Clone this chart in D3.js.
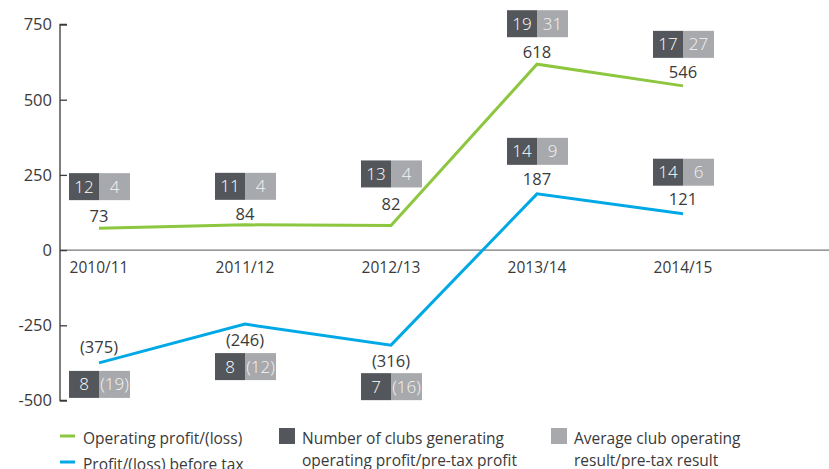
<!DOCTYPE html>
<html>
<head>
<meta charset="utf-8">
<script src="https://cdn.jsdelivr.net/npm/d3@7"></script>
<style>
  body { margin: 0; background: #fff; }
  svg { font-family: "Open Sans", "Noto Sans", sans-serif; font-weight: 400; }
</style>
</head>
<body>
<div id="chart"></div>
<script>
const seasons = ['2010/11', '2011/12', '2012/13', '2013/14', '2014/15'];
const operatingProfit = [73, 84, 82, 618, 546];
const preTaxProfit = [-375, -246, -316, 187, 121];
const clubsOperating = [12, 11, 13, 19, 17];
const avgOperating = [4, 4, 4, 31, 27];
const clubsPreTax = [8, 8, 7, 14, 14];
const avgPreTax = [-19, -12, -16, 9, 6];
const yTicks = [750, 500, 250, 0, -250, -500];

// label placement relative to each point (text baseline / box top)
const greenPlace = [[-6, -55], [-5, -52], [-15, -65], [-6, -54], [-8, -55]];
const bluePlace = [[-10, 8], [22, 29], [22, 28], [-9, -56], [-9, -55]];

const width = 829, height = 469;
const green = '#8dc63f', blue = '#00a9e6';
const dark = '#53565a', light = '#a7a9ac';
const ink = '#3a3a3a';

const svg = d3.select('#chart').append('svg')
  .attr('width', width)
  .attr('height', height);

const x = d3.scalePoint().domain(seasons).range([99, 683]);
const y = d3.scaleLinear().domain([-500, 750]).range([400.5, 24.5]);

// zero line
svg.append('line')
  .attr('x1', 60).attr('x2', width)
  .attr('y1', y(0)).attr('y2', y(0))
  .attr('stroke', '#777').attr('stroke-width', 1.3);

// y axis
const yAxis = svg.append('g')
  .attr('transform', 'translate(60,0)')
  .call(d3.axisRight(y).tickValues(yTicks).tickSize(7).tickFormat(''));
yAxis.select('.domain').attr('stroke', ink).attr('stroke-width', 1.3)
  .attr('d', `M7,${y(750)}H0V${y(-500)}H7`);
yAxis.selectAll('.tick line').attr('stroke', ink).attr('stroke-width', 1.3);

svg.append('g').selectAll('text')
  .data(yTicks)
  .join('text')
  .attr('x', 52)
  .attr('y', d => y(d))
  .attr('dy', '0.36em')
  .attr('text-anchor', 'end')
  .attr('font-size', 16.5)
  .attr('fill', ink)
  .text(d => d);

// season labels
svg.append('g').selectAll('text')
  .data(seasons)
  .join('text')
  .attr('x', d => x(d))
  .attr('y', 273)
  .attr('text-anchor', 'middle')
  .attr('font-size', 15.5)
  .attr('fill', ink)
  .text(d => d);

const line = d3.line()
  .x((d, i) => x(seasons[i]))
  .y(d => y(d));

function fmt(v) {
  return v < 0 ? '(' + Math.abs(v) + ')' : String(v);
}

function drawSeries(values, clubs, avg, place, color) {
  svg.append('path')
    .datum(values)
    .attr('fill', 'none')
    .attr('stroke', color)
    .attr('stroke-width', 3)
    .attr('d', line);

  const g = svg.append('g').selectAll('g')
    .data(values)
    .join('g')
    .attr('transform', (d, i) => `translate(${x(seasons[i])},${y(d)})`);

  g.append('text')
    .attr('y', (d, i) => place[i][0])
    .attr('text-anchor', 'middle')
    .attr('font-size', 16.5)
    .attr('fill', ink)
    .text(d => fmt(d));

  g.append('rect')
    .attr('x', -30).attr('width', 30)
    .attr('y', (d, i) => place[i][1]).attr('height', 27)
    .attr('fill', dark);
  g.append('rect')
    .attr('x', 0).attr('width', 31)
    .attr('y', (d, i) => place[i][1]).attr('height', 27)
    .attr('fill', light);

  g.append('text')
    .attr('x', -15)
    .attr('y', (d, i) => place[i][1] + 19.5)
    .attr('text-anchor', 'middle')
    .attr('font-size', 17)
    .attr('font-weight', 300)
    .attr('fill', '#fff')
    .text((d, i) => clubs[i]);
  g.append('text')
    .attr('x', 15.5)
    .attr('y', (d, i) => place[i][1] + 19.5)
    .attr('text-anchor', 'middle')
    .attr('font-size', 17)
    .attr('font-weight', 300)
    .attr('fill', '#f4f4f4')
    .text((d, i) => fmt(avg[i]));
}

drawSeries(operatingProfit, clubsOperating, avgOperating, greenPlace, green);
drawSeries(preTaxProfit, clubsPreTax, avgPreTax, bluePlace, blue);

// legend
const legend = svg.append('g').attr('font-size', 15.5).attr('fill', ink);
[['Operating profit/(loss)', green, 436, 444], ['Profit/(loss) before tax', blue, 462, 470]]
  .forEach(([label, color, ly, ty]) => {
    legend.append('line')
      .attr('x1', 60).attr('x2', 75)
      .attr('y1', ly).attr('y2', ly)
      .attr('stroke', color).attr('stroke-width', 3);
    legend.append('text').attr('x', 83).attr('y', ty).text(label);
  });

[[279, dark, ['Number of clubs generating', 'operating profit/pre-tax profit']],
 [551, light, ['Average club operating', 'result/pre-tax result']]]
  .forEach(([lx, color, lines]) => {
    legend.append('rect')
      .attr('x', lx).attr('y', 428)
      .attr('width', 16).attr('height', 16)
      .attr('fill', color);
    lines.forEach((t, k) => {
      legend.append('text')
        .attr('x', lx + 23)
        .attr('y', 444 + k * 22)
        .text(t);
    });
  });
</script>
</body>
</html>
